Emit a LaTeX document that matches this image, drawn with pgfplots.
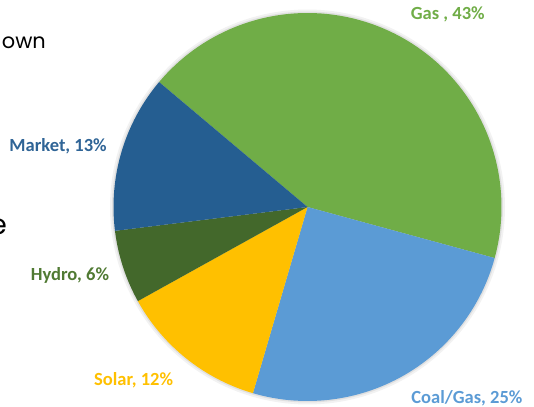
\documentclass[border=0pt]{standalone}
\usepackage{pgfplots}
\usepackage{pgfplotstable}
\pgfplotsset{compat=1.18}
\usepackage{fontspec}
\setmainfont{Carlito}
\newfontfamily\slidefont{Poppins}
\definecolor{cGas}{HTML}{70AD47}
\definecolor{cCoal}{HTML}{5B9BD5}
\definecolor{cSolar}{HTML}{FFC000}
\definecolor{cHydro}{HTML}{43682B}
\definecolor{cMarket}{HTML}{255E91}
\definecolor{lMarket}{HTML}{2F6496}
\definecolor{lHydro}{HTML}{507A33}
\pgfplotstableread{
label value
Gas 43.1
CoalGas 25.3
Solar 12.4
Hydro 6.1
Market 13.1
}\piedata
\begin{document}
\begin{tikzpicture}
\def\cx{307.5}\def\cy{200}\def\r{194}
\pgfplotstablegetelem{0}{value}\of\piedata \let\vA\pgfplotsretval
\pgfplotstablegetelem{1}{value}\of\piedata \let\vB\pgfplotsretval
\pgfplotstablegetelem{2}{value}\of\piedata \let\vC\pgfplotsretval
\pgfplotstablegetelem{3}{value}\of\piedata \let\vD\pgfplotsretval
\pgfplotstablegetelem{4}{value}\of\piedata \let\vE\pgfplotsretval
\pgfmathsetmacro\aA{139.9}
\pgfmathsetmacro\aB{\aA-3.6*\vA}
\pgfmathsetmacro\aC{\aB-3.6*\vB}
\pgfmathsetmacro\aD{\aC-3.6*\vC}
\pgfmathsetmacro\aE{\aD-3.6*\vD}
\pgfmathsetmacro\aF{\aE-3.6*\vE}
\begin{axis}[width=534bp,height=407bp,scale only axis,
  xmin=0,xmax=534,ymin=0,ymax=407,hide axis,clip=false]
\addplot[fill=black!5,draw=none,domain=0:360,samples=180]
  ({\cx+(\r+3.5)*cos(x)},{\cy+(\r+3.5)*sin(x)}) -- cycle;
\addplot[fill=black!12,draw=none,domain=0:360,samples=180]
  ({\cx+(\r+1.5)*cos(x)},{\cy+(\r+1.5)*sin(x)}) -- cycle;
\addplot[fill=cGas,draw=none,domain=\aB:\aA,samples=90]
  ({\cx+\r*cos(x)},{\cy+\r*sin(x)}) -- (axis cs:\cx,\cy) -- cycle;
\addplot[fill=cCoal,draw=none,domain=\aC:\aB,samples=60]
  ({\cx+\r*cos(x)},{\cy+\r*sin(x)}) -- (axis cs:\cx,\cy) -- cycle;
\addplot[fill=cSolar,draw=none,domain=\aD:\aC,samples=40]
  ({\cx+\r*cos(x)},{\cy+\r*sin(x)}) -- (axis cs:\cx,\cy) -- cycle;
\addplot[fill=cHydro,draw=none,domain=\aE:\aD,samples=25]
  ({\cx+\r*cos(x)},{\cy+\r*sin(x)}) -- (axis cs:\cx,\cy) -- cycle;
\addplot[fill=cMarket,draw=none,domain=\aF:\aE,samples=40]
  ({\cx+\r*cos(x)},{\cy+\r*sin(x)}) -- (axis cs:\cx,\cy) -- cycle;
\tikzset{lab/.style={anchor=base west,inner sep=0pt,font=\bfseries\fontsize{18.6}{20}\selectfont}}
\node[lab,text=cGas] at (axis cs:410.7,387.5) {Gas , 43\%};
\node[lab,text=lMarket] at (axis cs:9.3,255.3) {Market, 13\%};
\node[lab,text=lHydro] at (axis cs:30.7,126.5) {Hydro, 6\%};
\node[lab,text=cSolar] at (axis cs:94,21.3) {Solar, 12\%};
\node[lab,text=cCoal] at (axis cs:411.2,3.8) {Coal/Gas, 25\%};
\node[anchor=base east,inner sep=0pt,font=\slidefont\fontsize{21}{24}\selectfont] at (axis cs:46,358.7) {own};
\node[anchor=base east,inner sep=0pt,font=\slidefont\fontsize{28}{30}\selectfont] at (axis cs:7,172) {e};
\end{axis}
\pgfresetboundingbox
\useasboundingbox (0,0) rectangle (534bp,407bp);
\end{tikzpicture}
\end{document}
